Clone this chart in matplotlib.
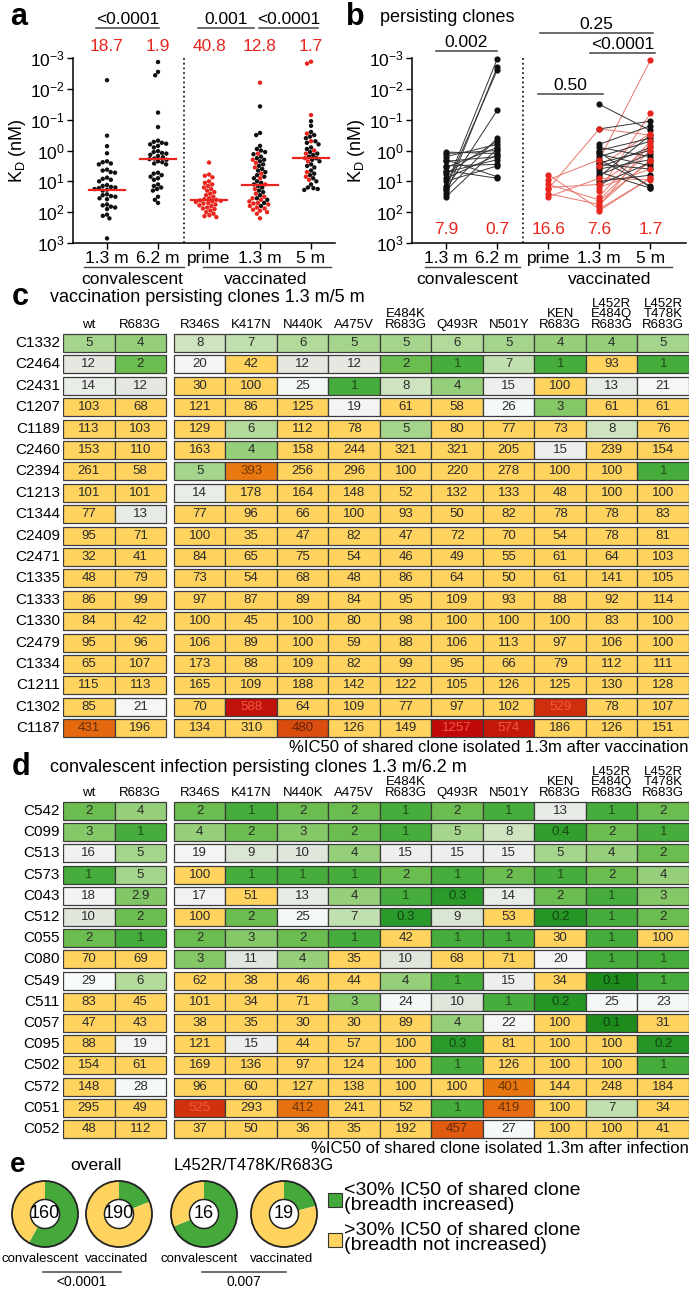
import numpy as np
import matplotlib
matplotlib.use("Agg")
import matplotlib.pyplot as plt
from matplotlib.colors import LinearSegmentedColormap, to_rgb
from matplotlib.patches import Rectangle, Circle
from matplotlib.ticker import NullLocator

plt.rcParams["font.family"] = ["Liberation Sans", "DejaVu Sans"]
plt.rcParams["mathtext.default"] = "regular"

W, H = 690, 1290

# ---------------- panel a: KD (log10 nM) ----------------
time_labels = ["1.3 m", "6.2 m", "prime", "1.3 m", "5 m"]
a_center = [18.7, 1.9, 40.8, 12.8, 1.7]
conv13_log = [-2.28, -0.48, -0.14, 0.09, 0.35, 0.38, 0.42, 0.45, 0.62, 0.65, 0.7, 0.72,
              0.88, 0.92, 0.95, 1.0, 1.12, 1.15, 1.18, 1.2, 1.22, 1.25, 1.27, 1.3, 1.42,
              1.45, 1.48, 1.5, 1.55, 1.58, 1.75, 1.78, 1.82, 1.85, 1.9, 2.08, 2.12, 2.2, 2.85]
conv62_log = [-2.87, -2.55, -2.44, -1.23, -0.76, -0.32, -0.28, -0.25, -0.22, -0.2, -0.15,
              -0.1, 0.02, 0.05, 0.08, 0.1, 0.14, 0.18, 0.22, 0.26, 0.28, 0.3, 0.35, 0.38,
              0.42, 0.45, 0.72, 0.75, 0.8, 0.85, 0.9, 0.95, 1.1, 1.15, 1.2, 1.25, 1.3, 1.5,
              1.6, 1.7]
prime_log = [0.39, 0.78, 0.82, 0.87, 1.0, 1.05, 1.1, 1.15, 1.2, 1.25, 1.3, 1.35, 1.4, 1.45,
             1.5, 1.55, 1.58, 1.6, 1.62, 1.63, 1.65, 1.67, 1.7, 1.72, 1.75, 1.78, 1.8, 1.85,
             1.88, 1.9, 1.95, 2.0, 2.05, 2.1, 2.13, 2.16]
vac13_black_log = [-1.43, -0.57, -0.5, -0.15, -0.05, 0.0, 0.05, 0.12, 0.2, 0.25, 0.3, 0.35,
                   0.45, 0.5, 0.6, 0.65, 0.7, 0.8, 0.85, 0.9, 1.0, 1.05, 1.1, 1.15, 1.2, 1.3,
                   1.35, 1.45, 1.55, 1.6, 1.7, 1.8]
vac13_red_log = [-2.2, 0.1, 0.3, 0.4, 0.55, 0.75, 0.9, 1.1, 1.25, 1.4, 1.5, 1.55, 1.6, 1.65,
                 1.7, 1.72, 1.75, 1.8, 1.85, 1.88, 1.92, 1.95, 2.0, 2.05, 2.2]
vac5_black_log = [-0.95, -0.8, -0.6, -0.5, -0.45, -0.4, -0.3, -0.25, -0.2, -0.1, -0.05, 0.05,
                  0.1, 0.15, 0.2, 0.25, 0.3, 0.35, 0.45, 0.5, 0.55, 0.65, 0.75, 0.8, 0.9, 1.0,
                  1.1, 1.2, 1.22, 1.25, 1.28]
vac5_red_log = [-2.88, -2.82, -1.15, -0.55, -0.3, 0.0, 0.1, 0.25, 0.35, 0.7, 0.85, 0.95]

# ---------------- panel b: persisting clones (log10 nM) ----------------
b_center = ["7.9", "0.7", "16.6", "7.6", "1.7"]
b_conv13 = [0.05, 0.1, 0.2, 0.3, 0.35, 0.5, 0.55, 0.65, 0.7, 0.75, 0.9, 1.0, 1.15, 1.2,
            1.25, 1.3, 1.4, 1.5]
b_conv62 = [0.1, 0.0, -0.2, 0.85, 0.2, 0.45, -0.1, 0.9, 0.3, -0.3, 0.15, 0.5, -2.96, -2.6,
            -1.3, -0.4, -2.7, -0.05]
b_prime = [0.78, 0.95, 1.1, 1.2, 1.25, 1.4, 1.5]
b_prime13 = [1.9, 0.3, 1.6, 1.1, -0.7, 1.75, 0.9]
b_prime5 = [0.9, -2.92, 0.0, -0.1, -0.5, 0.3, 0.95]
b_red13 = [1.5, 1.65, 1.8, 1.95, 1.3, 0.5, 1.2]
b_red5 = [-0.3, 0.35, -0.2, 0.9, -1.2, -0.55, 0.6]
b_blk13 = [-1.5, -0.7, -0.2, -0.1, 0.0, 0.05, 0.12, 0.2, 0.3, 0.4, 0.45, 0.55, 0.6, 0.7,
           0.8, 0.85, 1.0, 1.1]
b_blk5 = [-0.65, -0.95, -0.8, 0.2, -0.4, 1.2, 0.5, -0.3, 1.15, 0.0, 0.6, -0.1, 0.3, 1.22,
          0.1, -0.5, 0.8, 0.4]

# ---------------- panel c / d: %IC50 tables ----------------
variant_cols = ["R346S", "K417N", "N440K", "A475V", "E484K\nR683G", "Q493R", "N501Y",
                "KEN\nR683G", "L452R\nE484Q\nR683G", "L452R\nT478K\nR683G"]
c_rows = ["C1332", "C2464", "C2431", "C1207", "C1189", "C2460", "C2394", "C1213", "C1344",
          "C2409", "C2471", "C1335", "C1333", "C1330", "C2479", "C1334", "C1211", "C1302",
          "C1187"]
c_wt = [5, 12, 14, 103, 113, 153, 261, 101, 77, 95, 32, 48, 86, 84, 95, 65, 115, 85, 431]
c_r683g = [4, 2, 12, 68, 103, 110, 58, 101, 13, 71, 41, 79, 99, 42, 96, 107, 113, 21, 196]
c_variants = [
    [8, 7, 6, 5, 5, 6, 5, 4, 4, 5],
    [20, 42, 12, 12, 2, 1, 7, 1, 93, 1],
    [30, 100, 25, 1, 8, 4, 15, 100, 13, 21],
    [121, 86, 125, 19, 61, 58, 26, 3, 61, 61],
    [129, 6, 112, 78, 5, 80, 77, 73, 8, 76],
    [163, 4, 158, 244, 321, 321, 205, 15, 239, 154],
    [5, 393, 256, 296, 100, 220, 278, 100, 100, 1],
    [14, 178, 164, 148, 52, 132, 133, 48, 100, 100],
    [77, 96, 66, 100, 93, 50, 82, 78, 78, 83],
    [100, 35, 47, 82, 47, 72, 70, 54, 78, 81],
    [84, 65, 75, 54, 46, 49, 55, 61, 64, 103],
    [73, 54, 68, 48, 86, 64, 50, 61, 141, 105],
    [97, 87, 89, 84, 95, 109, 93, 88, 92, 114],
    [100, 45, 100, 80, 98, 100, 100, 100, 83, 100],
    [106, 89, 100, 59, 88, 106, 113, 97, 106, 100],
    [173, 88, 109, 82, 99, 95, 66, 79, 112, 111],
    [165, 109, 188, 142, 122, 105, 126, 125, 130, 128],
    [70, 588, 64, 109, 77, 97, 102, 529, 78, 107],
    [134, 310, 480, 126, 149, 1257, 574, 186, 126, 151],
]
d_rows = ["C542", "C099", "C513", "C573", "C043", "C512", "C055", "C080", "C549", "C511",
          "C057", "C095", "C502", "C572", "C051", "C052"]
d_wt = [2, 3, 16, 1, 18, 10, 2, 70, 29, 83, 47, 88, 154, 148, 295, 48]
d_r683g = [4, 1, 5, 5, 2.9, 2, 1, 69, 6, 45, 43, 19, 61, 28, 49, 112]
d_variants = [
    [2, 1, 2, 2, 1, 2, 1, 13, 1, 2],
    [4, 2, 3, 2, 1, 5, 8, 0.4, 2, 1],
    [19, 9, 10, 4, 15, 15, 15, 5, 4, 2],
    [100, 1, 1, 1, 2, 1, 2, 1, 2, 4],
    [17, 51, 13, 4, 1, 0.3, 14, 2, 1, 3],
    [100, 2, 25, 7, 0.3, 9, 53, 0.2, 1, 2],
    [2, 3, 2, 1, 42, 1, 1, 30, 1, 100],
    [3, 11, 4, 35, 10, 68, 71, 20, 1, 1],
    [62, 38, 46, 44, 4, 1, 15, 34, 0.1, 1],
    [101, 34, 71, 3, 24, 10, 1, 0.2, 25, 23],
    [38, 35, 30, 30, 89, 4, 22, 100, 0.1, 31],
    [121, 15, 44, 57, 100, 0.3, 81, 100, 100, 0.2],
    [169, 136, 97, 124, 100, 1, 126, 100, 100, 1],
    [96, 60, 127, 138, 100, 100, 401, 144, 248, 184],
    [525, 293, 412, 241, 52, 1, 419, 100, 7, 34],
    [37, 50, 36, 35, 192, 457, 27, 100, 100, 41],
]
THRESH = 30

RED = "#E8261E"
GREEN = "#45A83A"
YELLOW = "#FFD35E"

fig = plt.figure(figsize=(W / 100, H / 100), dpi=100)


def px_axes(x0, y0, x1, y1):
    return fig.add_axes([x0 / W, 1 - y1 / H, (x1 - x0) / W, (y1 - y0) / H])


def ftext(x, y, s, **kw):
    return fig.text(x / W, 1 - y / H, s, **kw)


AX_TOP, AX_BOT = 58, 243


def swarm(logv, ypx=(AX_BOT - AX_TOP) / 6, xpx=51.0, d=4.4):
    y = np.asarray(logv, dtype=float) * ypx
    xs = np.zeros(len(y))
    placed = []
    for idx in np.argsort(y):
        yi = y[idx]
        near = [(xp, yp) for xp, yp in placed if abs(yp - yi) < d]
        cands = [0.0]
        for xp, yp in near:
            dx = np.sqrt(d * d - (yp - yi) ** 2)
            cands += [xp - dx, xp + dx]
        cands.sort(key=abs)
        for c in cands:
            if all((c - xp) ** 2 + (yi - yp) ** 2 >= d * d - 1e-6 for xp, yp in near):
                xs[idx] = c
                break
        placed.append((xs[idx], yi))
    return xs / xpx


def kd_axis(ax, xmax):
    ax.set_yscale("log")
    ax.set_ylim(1e3, 1e-3)
    ax.set_xlim(-0.667, xmax)
    ax.set_yticks([10.0 ** k for k in range(-3, 4)])
    ax.set_yticklabels([f"$10^{{{k}}}$" for k in range(-3, 4)])
    ax.yaxis.set_minor_locator(NullLocator())
    ax.set_xticks(range(5))
    ax.set_xticklabels(time_labels)
    ax.spines[["top", "right"]].set_visible(False)
    for s in ("left", "bottom"):
        ax.spines[s].set_linewidth(1.1)
    ax.tick_params(labelsize=12.5, length=4.5, width=1.0, pad=1.5)
    ax.set_ylabel("K$_D$ (nM)", fontsize=13, labelpad=1)
    ax.axvline(1.5, color="#222222", ls=(0, (1, 1.6)), lw=1.3)


def frac(ypx):
    return (AX_BOT - ypx) / (AX_BOT - AX_TOP)


def group_under(ax, x0, x1, xc, label):
    tr = ax.get_xaxis_transform()
    ax.plot([x0, x1], [frac(267)] * 2, transform=tr, clip_on=False, color="#444", lw=1)
    ax.text(xc, frac(279), label, transform=tr, ha="center", va="center", fontsize=12.5)


def pbar(ax, x0, x1, ypx, label):
    tr = ax.get_xaxis_transform()
    ax.plot([x0, x1], [frac(ypx)] * 2, transform=tr, clip_on=False, color="#444", lw=1.1)
    ax.text((x0 + x1) / 2, frac(ypx - 1), label, transform=tr, ha="center", va="bottom",
            fontsize=12.5, clip_on=False)


# ---------------- draw a ----------------
ax = px_axes(73, AX_TOP, 335, AX_BOT)
kd_axis(ax, 4.47)
groups_a = [
    (conv13_log, []),
    (conv62_log, []),
    ([], prime_log),
    (vac13_black_log, vac13_red_log),
    (vac5_black_log, vac5_red_log),
]
for i, (blk, red) in enumerate(groups_a):
    vals = list(blk) + list(red)
    cols = ["#111111"] * len(blk) + [RED] * len(red)
    off = swarm(vals)
    ax.scatter(i + off, 10.0 ** np.array(vals), s=10, c=cols, lw=0, zorder=3, clip_on=False)
    ax.plot([i - 0.36, i + 0.36], [a_center[i]] * 2, color=RED, lw=1.6, zorder=4)
    ax.text(i, frac(47), f"{a_center[i]}", transform=ax.get_xaxis_transform(), ha="center",
            va="center", fontsize=12.5, color=RED)
group_under(ax, -0.45, 1.5, 0.5, "convalescent")
group_under(ax, 1.88, 4.4, 3.1, "vaccinated")
pbar(ax, -0.22, 1.02, 28, "<0.0001")
pbar(ax, 1.78, 2.88, 28, "0.001")
pbar(ax, 2.98, 4.14, 28, "<0.0001")
ftext(10, 17, "a", fontsize=22, fontweight="bold", va="center")

# ---------------- draw b ----------------
bx = px_axes(412, AX_TOP, 686, AX_BOT)
kd_axis(bx, 4.7)
LRED = "#E8776C"
for y0, y1 in zip(b_conv13, b_conv62):
    bx.plot([0, 1], [10 ** y0, 10 ** y1], color="#333", lw=0.7, zorder=2)
for y0, y1, y2 in zip(b_prime, b_prime13, b_prime5):
    bx.plot([2, 3, 4], [10 ** y0, 10 ** y1, 10 ** y2], color=LRED, lw=0.7, zorder=2)
for y0, y1 in zip(b_red13, b_red5):
    bx.plot([3, 4], [10 ** y0, 10 ** y1], color=LRED, lw=0.7, zorder=2)
for y0, y1 in zip(b_blk13, b_blk5):
    bx.plot([3, 4], [10 ** y0, 10 ** y1], color="#333", lw=0.7, zorder=2)
bx.scatter(np.zeros(len(b_conv13)), 10.0 ** np.array(b_conv13), s=20, c="#111", lw=0, zorder=3)
bx.scatter(np.ones(len(b_conv62)), 10.0 ** np.array(b_conv62), s=20, c="#111", lw=0, zorder=3,
           clip_on=False)
bx.scatter(np.full(len(b_prime), 2), 10.0 ** np.array(b_prime), s=20, c=RED, lw=0, zorder=3)
bx.scatter(np.full(len(b_blk13), 3), 10.0 ** np.array(b_blk13), s=20, c="#111", lw=0, zorder=3)
bx.scatter(np.full(len(b_red13 + b_prime13), 3), 10.0 ** np.array(b_red13 + b_prime13), s=20,
           c=RED, lw=0, zorder=3)
bx.scatter(np.full(len(b_blk5), 4), 10.0 ** np.array(b_blk5), s=20, c="#111", lw=0, zorder=3)
bx.scatter(np.full(len(b_red5 + b_prime5), 4), 10.0 ** np.array(b_red5 + b_prime5), s=20,
           c=RED, lw=0, zorder=3, clip_on=False)
for i, s in enumerate(b_center):
    bx.text(i, frac(230), s, transform=bx.get_xaxis_transform(), ha="center", va="center",
            fontsize=12.5, color=RED)
group_under(bx, -0.41, 1.45, 0.41, "convalescent")
group_under(bx, 1.84, 4.43, 3.2, "vaccinated")
pbar(bx, -0.2, 1.0, 51, "0.002")
pbar(bx, 1.84, 4.06, 33, "0.25")
pbar(bx, 2.82, 4.1, 53, "<0.0001")
pbar(bx, 1.8, 3.08, 94, "0.50")
ftext(346, 17, "b", fontsize=22, fontweight="bold", va="center")
ftext(380, 17, "persisting clones", fontsize=13, va="center")

# ---------------- heatmaps ----------------
green_map = LinearSegmentedColormap.from_list("greens", [
    (0.0, "#1D8C1D"), (0.5 / 2.48, "#2B9B2B"), (1.0 / 2.48, "#46AC3B"),
    (1.3 / 2.48, "#6CBD50"), (1.6 / 2.48, "#95CF79"), (1.78 / 2.48, "#B2DA9A"),
    (1.9 / 2.48, "#CCE4BF"), (1.96 / 2.48, "#DCE5D7"), (2.1 / 2.48, "#E5E9E3"),
    (2.2 / 2.48, "#EEF1EE"), (2.3 / 2.48, "#F3F6F5"), (1.0, "#F7FAFB")])
hot_map = LinearSegmentedColormap.from_list("hot", [
    (0.0, "#EC8A12"), (0.2, "#E8760E"), (0.44, "#E05A10"), (0.72, "#D02E0C"),
    (0.96, "#C0100A"), (1.0, "#C00A0A")])


def cell_color(v):
    if v < THRESH:
        return green_map(np.clip((np.log10(v) + 1) / 2.48, 0, 1))
    if v < 350:
        return YELLOW
    return hot_map(np.clip((v - 350) / 250, 0, 1))


def text_color(v, c):
    if v >= 500:
        return "#EE5A40"
    r, g, b = to_rgb(c)
    lum = 0.3 * r + 0.59 * g + 0.11 * b
    if lum < 0.6:
        return (r * 0.45, g * 0.45, b * 0.45)
    return "#2a2a2a"


def fmt(v):
    return f"{v:g}"


GAP = 0.155


def heatmap(y_first, pitch, rows, wt, r683g, variants, footnote):
    n = len(rows)
    hx = px_axes(63, y_first - pitch / 2, 689, y_first + pitch * (n - 0.5))
    hx.set_xlim(0, 12 + GAP)
    hx.set_ylim(n - 0.5, -0.5)
    hx.axis("off")
    headers = ["wt", "R683G"] + variant_cols
    for j, h in enumerate(headers):
        x = j + (GAP if j >= 2 else 0)
        hx.text(x + 0.5, -0.56, h, ha="center", va="bottom", fontsize=9.5, linespacing=0.85,
                clip_on=False)
    for i in range(n):
        vals = [wt[i], r683g[i]] + list(variants[i])
        hx.text(-0.06, i, rows[i], ha="right", va="center", fontsize=11, clip_on=False)
        for j, v in enumerate(vals):
            x = j + (GAP if j >= 2 else 0)
            c = cell_color(v)
            hx.add_patch(Rectangle((x, i - 0.42), 1, 0.84, facecolor=c, edgecolor="#3c3c3c",
                                   lw=0.9))
            hx.text(x + 0.5, i, fmt(v), ha="center", va="center", fontsize=9.5,
                    color=text_color(v, c))
    hx.text(12 + GAP, n - 1 + 0.9, footnote, ha="right", va="center", fontsize=12,
            clip_on=False)


ftext(12, 297, "c", fontsize=22, fontweight="bold", va="center")
ftext(50, 297, "vaccination persisting clones 1.3 m/5 m", fontsize=13, va="center")
heatmap(343, 21.4, c_rows, c_wt, c_r683g, c_variants,
        "%IC50 of shared clone isolated 1.3m after vaccination")
ftext(12, 767, "d", fontsize=22, fontweight="bold", va="center")
ftext(50, 767, "convalescent infection persisting clones 1.3 m/6.2 m", fontsize=13,
      va="center")
heatmap(811, 21.2, d_rows, d_wt, d_r683g, d_variants,
        "%IC50 of shared clone isolated 1.3m after infection")

# ---------------- panel e: donuts ----------------
def n_below(table, col=None):
    vals = [row[col] for row in table] if col is not None else [v for row in table for v in row]
    return sum(v < THRESH for v in vals), len(vals)


donuts = [n_below(d_variants), n_below(c_variants), n_below(d_variants, -1),
          n_below(c_variants, -1)]
centers_x = [45, 119, 204, 284]
CY, R = 1214, 33
for (g, n), cx in zip(donuts, centers_x):
    pa = px_axes(cx - R - 2, CY - R - 2, cx + R + 2, CY + R + 2)
    pa.pie([g, n - g], colors=[GREEN, YELLOW], startangle=90, counterclock=False, radius=1,
           wedgeprops=dict(width=0.56, edgecolor="none"))
    pa.add_patch(Circle((0, 0), 1, fill=False, ec="#222", lw=1.3))
    pa.add_patch(Circle((0, 0), 0.44, fc="white", ec="#222", lw=1.1))
    pa.text(0, 0, str(n), ha="center", va="center", fontsize=13)
    pa.set_xlim(-1.06, 1.06)
    pa.set_ylim(-1.06, 1.06)

ftext(10, 1165, "e", fontsize=20, fontweight="bold", va="center")
ftext((centers_x[0] + centers_x[1]) / 2 + 14, 1165, "overall", fontsize=12.5, ha="center",
      va="center")
ftext((centers_x[2] + centers_x[3]) / 2 + 10, 1165, "L452R/T478K/R683G", fontsize=12,
      ha="center", va="center")
for x0, x1, p in [(centers_x[0], centers_x[1], "<0.0001"), (centers_x[2], centers_x[3], "0.007")]:
    ftext(x0 - 5, 1259, "convalescent", fontsize=9.5, ha="center", va="center")
    ftext(x1 - 2, 1259, "vaccinated", fontsize=9.5, ha="center", va="center")
    la = px_axes(x0 - 2, 1271, x1 + 2, 1273)
    la.axis("off")
    la.plot([0, 1], [0.5, 0.5], color="#444", lw=1.1, clip_on=False)
    la.set_xlim(0, 1)
    ftext((x0 + x1) / 2, 1282, p, fontsize=10, ha="center", va="center")

leg = px_axes(322, 1178, 690, 1258)
leg.set_xlim(322, 690)
leg.set_ylim(1258, 1178)
leg.axis("off")
for yc, col, txt in [(1199, GREEN, "<30% IC50 of shared clone\n(breadth increased)"),
                     (1239, YELLOW, ">30% IC50 of shared clone\n(breadth not increased)")]:
    leg.add_patch(Rectangle((328, yc - 6), 14, 14, fc=col, ec="#333", lw=0.8))
    leg.text(344, yc - 1, txt, ha="left", va="center", fontsize=14, linespacing=0.88)

fig.savefig("out.png", dpi=100)
